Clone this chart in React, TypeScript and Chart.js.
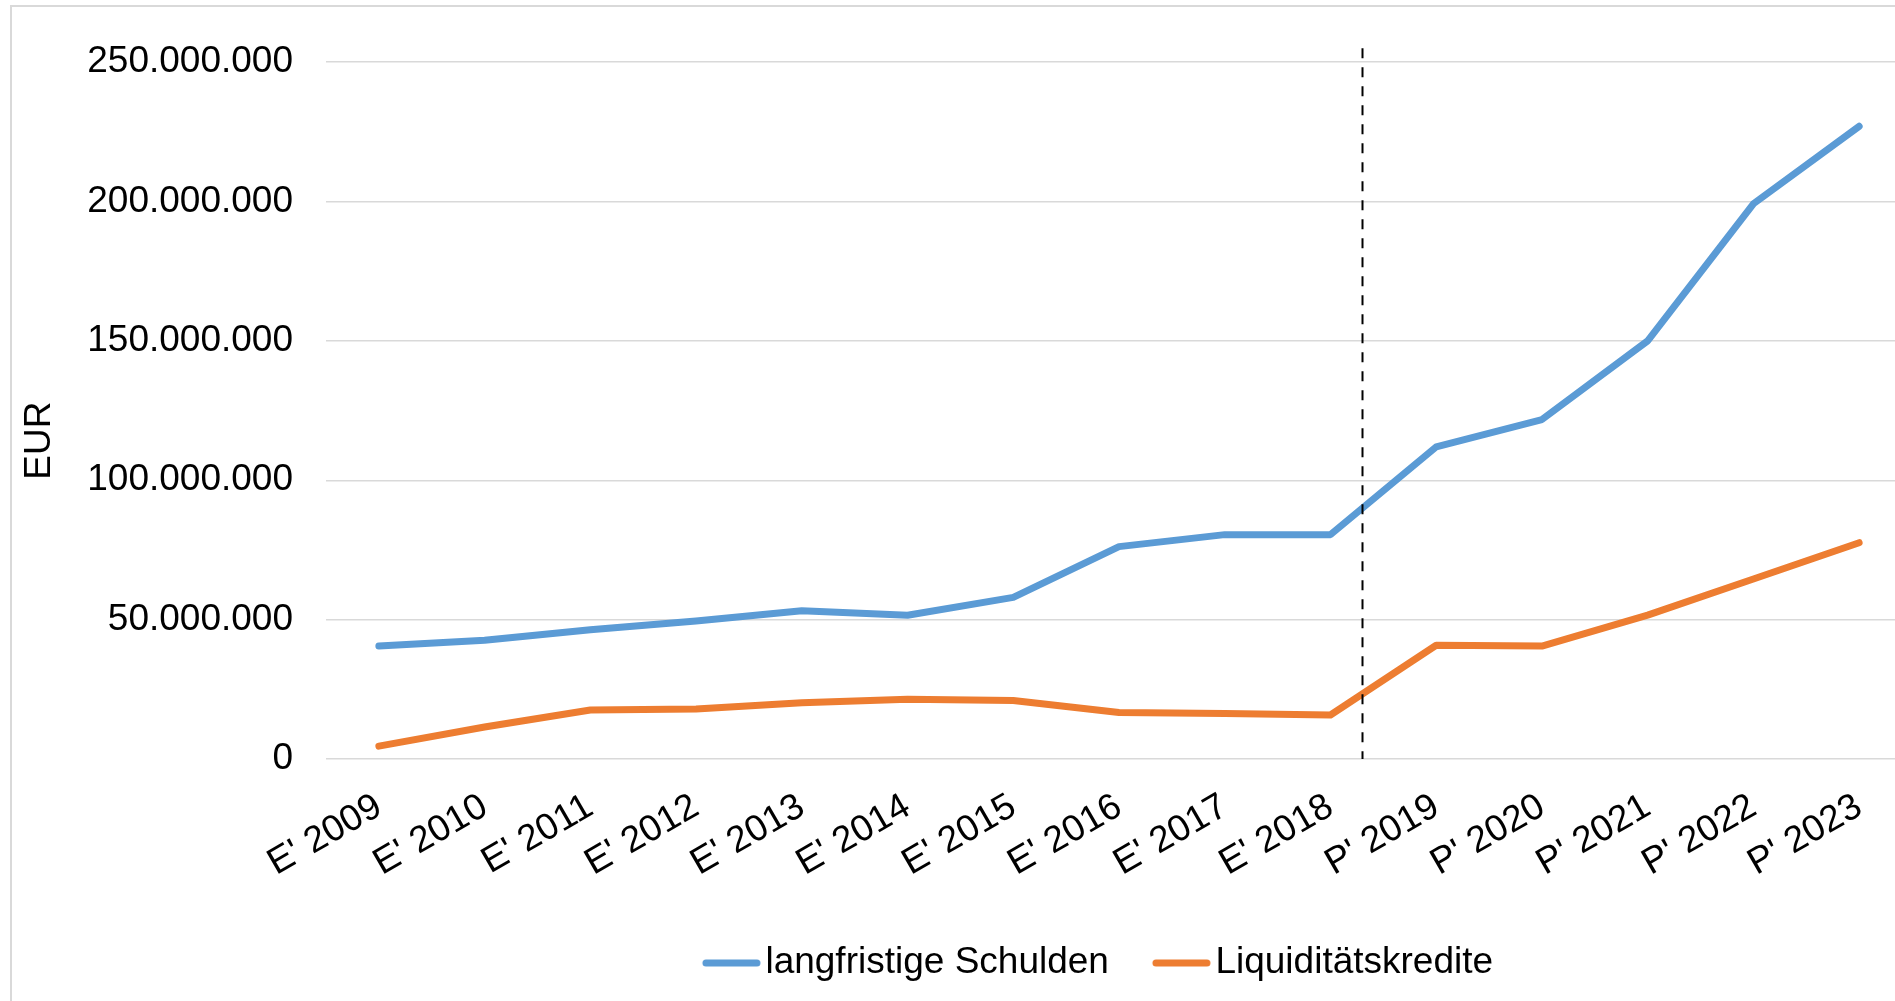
import React, { useEffect, useRef } from 'react';
import { Chart, registerables } from 'chart.js';

Chart.register(...registerables);

// ---- data ----
const categories = [
  "E' 2009", "E' 2010", "E' 2011", "E' 2012", "E' 2013", "E' 2014", "E' 2015",
  "E' 2016", "E' 2017", "E' 2018", "P' 2019", "P' 2020", "P' 2021", "P' 2022", "P' 2023",
];
const langfristigeSchulden = [
  40500000, 42600000, 46400000, 49500000, 53200000, 51600000, 58000000,
  76200000, 80500000, 80500000, 112000000, 121800000, 150000000, 199200000, 227000000,
];
const liquiditaetskredite = [
  4600000, 11500000, 17600000, 17900000, 20200000, 21400000, 21000000,
  16700000, 16300000, 15800000, 40800000, 40500000, 51600000, 64600000, 77600000,
];
const seriesNames = ['langfristige Schulden', 'Liquiditätskredite'];
const seriesColors = ['#5B9BD5', '#ED7D31'];
const yMin = 0;
const yMax = 250000000;
const yStep = 50000000;
const yTitle = 'EUR';
// dashed divider between actual (E') and planned (P') values
const dividerPosition = 9.3; // category index
const dividerTop = 255000000;

const FONT = "'Liberation Sans', Arial, sans-serif";

const formatDe = (v: number) => String(Math.round(v)).replace(/\B(?=(\d{3})+(?!\d))/g, '.');

const CANVAS_W = 2174;
const CANVAS_H = 1000;
const LEGEND_BOX_W = 52;
const LEGEND_PAD = 36;

// legend sample: a short thick line with round caps, sitting close to the label text
function makeLegendLine(color: string): HTMLCanvasElement {
  const c = document.createElement('canvas');
  c.width = 90;
  c.height = 12;
  const g = c.getContext('2d')!;
  g.strokeStyle = color;
  g.lineWidth = 7;
  g.lineCap = 'round';
  g.beginPath();
  g.moveTo(30, 6);
  g.lineTo(81, 6);
  g.stroke();
  return c;
}

const overlayPlugin = {
  id: 'overlay',
  afterDatasetsDraw(chart: any) {
    const { ctx, scales } = chart;
    const xs = scales.x;
    const ys = scales.y;
    const x = Math.round(xs.getPixelForValue(dividerPosition)) + 0.5;
    ctx.save();
    ctx.strokeStyle = '#000';
    ctx.lineWidth = 2;
    ctx.setLineDash([10, 9]);
    ctx.beginPath();
    ctx.moveTo(x, ys.getPixelForValue(dividerTop));
    ctx.lineTo(x, ys.getPixelForValue(0));
    ctx.stroke();
    ctx.restore();
  },
  afterDraw(chart: any) {
    const { ctx, chartArea } = chart;
    ctx.save();
    ctx.font = `37px ${FONT}`;
    ctx.fillStyle = '#000';
    ctx.textAlign = 'center';
    ctx.textBaseline = 'middle';
    ctx.translate(chartArea.left - 286, (chartArea.top + chartArea.bottom) / 2 + 30);
    ctx.rotate(-Math.PI / 2);
    ctx.fillText(yTitle, 0, 0);
    ctx.restore();
  },
};

export default function App() {
  const ref = useRef<HTMLCanvasElement | null>(null);

  useEffect(() => {
    if (!ref.current) return;
    Chart.defaults.font.family = FONT;
    Chart.defaults.font.size = 37;
    Chart.defaults.color = '#000';
    const legendImages = seriesColors.map(makeLegendLine);
    const mkDataset = (i: number, data: number[]) => ({
      label: seriesNames[i],
      data,
      borderColor: seriesColors[i],
      backgroundColor: seriesColors[i],
      borderWidth: 7,
      pointRadius: 0,
      pointHoverRadius: 0,
      tension: 0,
      borderCapStyle: 'round',
      borderJoinStyle: 'round',
      fill: false,
    });
    const defaultGenerate = (Chart as any).defaults.plugins.legend.labels.generateLabels;
    const chart = new Chart(ref.current, {
      type: 'line',
      data: {
        labels: categories,
        datasets: [mkDataset(0, langfristigeSchulden), mkDataset(1, liquiditaetskredite)],
      },
      options: {
        responsive: false,
        animation: false,
        devicePixelRatio: 1,
        events: [],
        layout: { padding: { left: 0, right: 10, top: 50, bottom: 15.5 } },
        plugins: {
          tooltip: { enabled: false },
          legend: {
            position: 'bottom',
            labels: {
              usePointStyle: true,
              pointStyleWidth: LEGEND_BOX_W,
              padding: LEGEND_PAD,
              color: '#000',
              font: { size: 37, family: FONT },
              generateLabels: (c: any) =>
                defaultGenerate(c).map((l: any, i: number) => ({ ...l, pointStyle: legendImages[i] })),
            },
          },
        },
        scales: {
          x: {
            type: 'category',
            offset: true,
            grid: { display: false, drawTicks: false },
            border: { display: false },
            ticks: {
              autoSkip: false,
              minRotation: 30,
              maxRotation: 30,
              padding: 26,
              color: '#000',
              font: { size: 37, family: FONT },
            },
            afterFit: (scale: any) => {
              scale.height = 185.5 - LEGEND_PAD;
              scale.paddingRight = 274;
            },
          },
          y: {
            min: yMin,
            max: yMax,
            grid: { color: '#d9d9d9', lineWidth: 1.5, drawTicks: false },
            border: { display: false },
            ticks: {
              stepSize: yStep,
              padding: 33,
              color: '#000',
              font: { size: 37, family: FONT },
              callback: (v: any) => formatDe(Number(v)),
            },
            afterFit: (scale: any) => { scale.width = 314; },
          },
        },
      },
      plugins: [overlayPlugin],
    } as any);
    return () => chart.destroy();
  }, []);

  return (
    <div style={{ position: 'fixed', left: 0, top: 0, width: 1895, height: 1001, overflow: 'hidden', background: '#fff' }}>
      <div style={{ position: 'absolute', left: 10, top: 5, width: CANVAS_W, height: CANVAS_H, border: '2px solid #d9d9d9' }}>
        <canvas ref={ref} width={CANVAS_W} height={CANVAS_H} style={{ display: 'block', width: CANVAS_W, height: CANVAS_H }} />
      </div>
    </div>
  );
}
